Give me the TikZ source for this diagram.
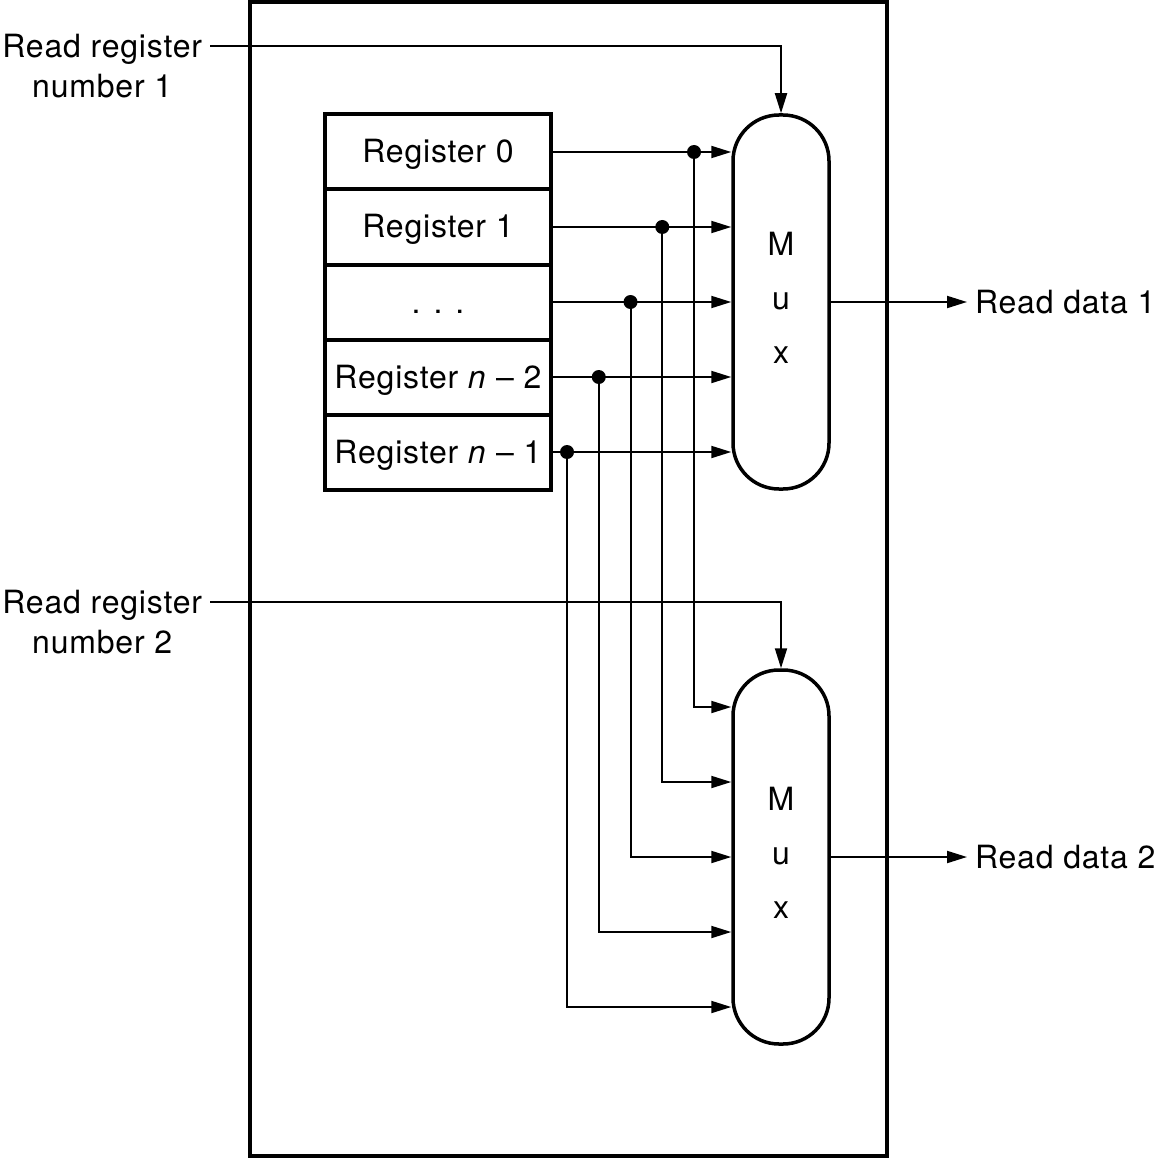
\documentclass[tikz,border=0pt]{standalone}
\usepackage{fontspec}
\setmainfont{TeX Gyre Heros}[LetterSpace=2.5]
\usetikzlibrary{arrows.meta,positioning,calc}

\tikzset{
    wire/.style={line width=2pt, -{Triangle[length=20pt,width=12pt]}},
    regcell/.style={draw, line width=4pt, outer sep=0pt, inner sep=0pt, minimum width=226pt, minimum height=75pt, text height=22pt, text depth=0pt, font=\fontsize{32}{40}\selectfont},
    muxbox/.style={draw, line width=3.5pt, rounded corners=46pt, minimum width=96pt, minimum height=374pt, align=center, text depth=8pt, font=\fontsize{32}{54}\selectfont},
    lbl/.style={inner xsep=8pt, inner ysep=0pt, outer sep=0pt, text depth=0pt, font=\fontsize{32}{40}\selectfont}
}

\begin{document}
\begin{tikzpicture}[x=1pt,y=-1pt]
    \useasboundingbox (0,0) rectangle (1157,1158);
    \draw[line width=4pt] (250,2) rectangle (887,1156);

    % registers
    \node[regcell] (reg0) at (438,152) {Register 0};
    \node[regcell, below=0pt of reg0] (reg1) {Register 1};
    \node[regcell, below=0pt of reg1] (reg2) {. . .};
    \node[regcell, below=0pt of reg2] (reg3) {Register \textit{n} – 2};
    \node[regcell, below=0pt of reg3] (reg4) {Register \textit{n} – 1};

    % the two multiplexers
    \node[muxbox] (mux1) at (781,302) {M\\u\\x};
    \node[muxbox] (mux2) at (781,857) {M\\u\\x};

    \node[lbl, anchor=east] (rr1) at (210,46) {Read register};
    \node[lbl, below=17pt of rr1] (rr1n) {number 1};
    \node[lbl, anchor=east] (rr2) at (210,602) {Read register};
    \node[lbl, below=17pt of rr2] (rr2n) {number 2};
    \node[lbl, anchor=west] (rd1) at (967,302) {Read data 1};
    \node[lbl, anchor=west] (rd2) at (967,857) {Read data 2};

    \draw[wire] (rr1.east) -| (mux1.north);
    \draw[wire] (rr2.east) -| (mux2.north);
    \draw[wire] (mux1.east) -- (rd1.west);
    \draw[wire] (mux2.east) -- (rd2.west);

    \foreach \i in {0,...,4} {
        \coordinate (tap\i) at ($(reg\i.east)+({16+31.75*(4-\i)},0)$);
        \draw[wire] (reg\i.east) -- (reg\i.east -| mux1.west);
        \draw[wire] (tap\i) |- ($(reg\i.east -| mux2.west)+(0,555)$);
        \fill (tap\i) circle (7pt);
    }
\end{tikzpicture}
\end{document}
